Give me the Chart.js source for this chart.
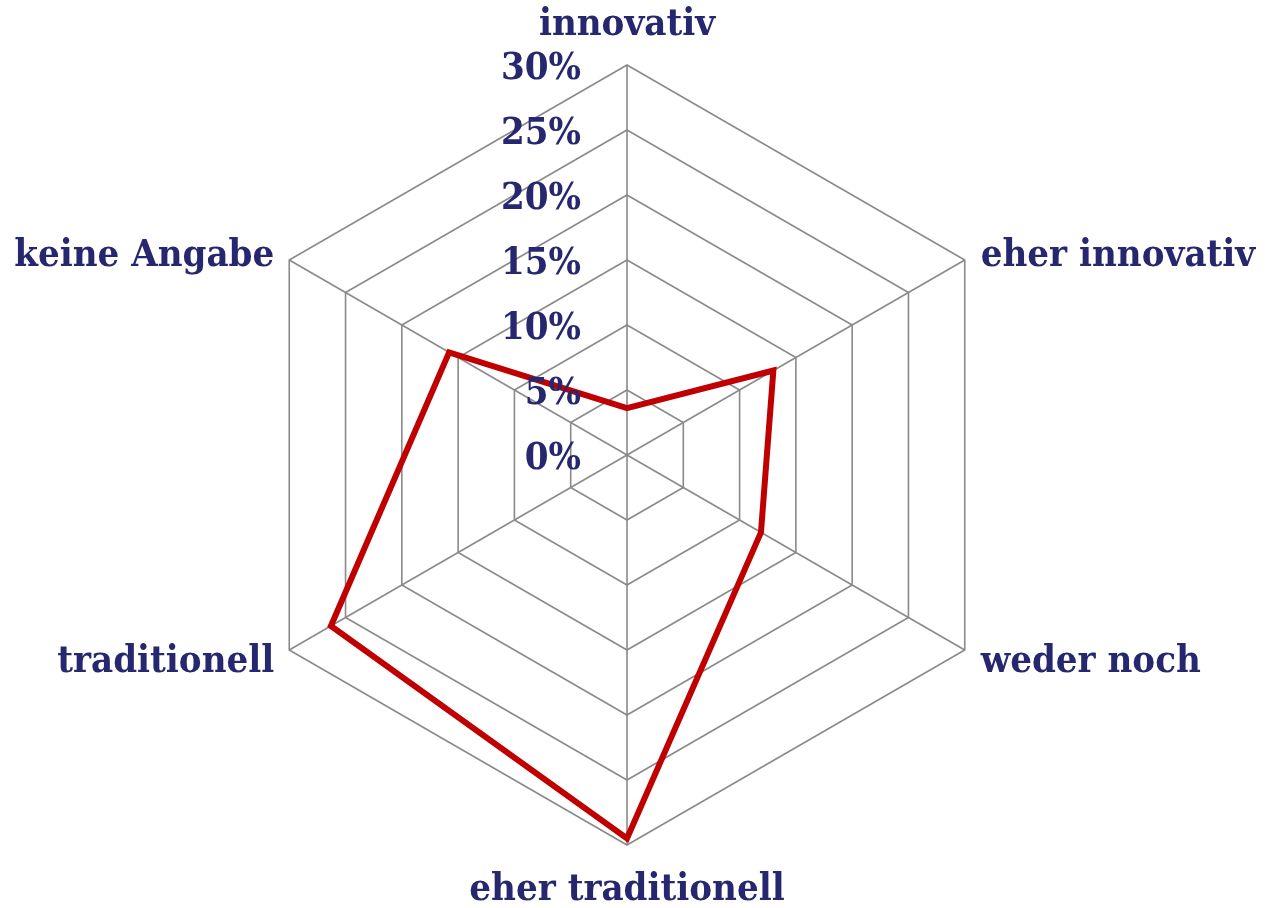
<!DOCTYPE html>
<html>
<head>
<meta charset="utf-8">
<script src="https://cdn.jsdelivr.net/npm/chart.js@4/dist/chart.umd.min.js"></script>
<style>
  html, body { margin: 0; padding: 0; background: #fff; }
  #wrap { width: 1268px; height: 908px; }
</style>
</head>
<body>
<div id="wrap"><canvas id="radarChart"></canvas></div>
<script>
// Kategorien und Werte (in %)
const categories = ['innovativ', 'eher innovativ', 'weder noch', 'eher traditionell', 'traditionell', 'keine Angabe'];
const shares = [3.6, 13.0, 11.9, 29.5, 26.3, 15.8];
const tickValues = [0, 5, 10, 15, 20, 25, 30];

const navy = '#27276f';
const labelFont = 'bold 38px "DejaVu Serif Condensed", "DejaVu Serif", serif';

// eigene Beschriftung: Achsentitel und Prozent-Ticks
const labelPlugin = {
    id: 'labels',
    afterDraw(chart) {
        const r = chart.scales.r;
        const c = chart.ctx;
        c.save();
        c.fillStyle = navy;
        c.font = labelFont;
        c.textBaseline = 'alphabetic';

        // Prozentwerte links von der senkrechten Achse
        c.textAlign = 'right';
        tickValues.forEach(v => {
            const p = r.getPointPositionForValue(0, v);
            c.fillText(v + '%', p.x - 46, p.y + 14);
        });

        // Kategorien
        categories.forEach((name, i) => {
            const p = r.getPointPosition(i, r.drawingArea);
            const cx = Math.cos(p.angle), cy = Math.sin(p.angle);
            if (Math.abs(cx) < 0.01) {
                c.textAlign = 'center';
                c.fillText(name, p.x, cy < 0 ? p.y - 30 : p.y + 55);
            } else {
                c.textAlign = cx > 0 ? 'left' : 'right';
                const x = cx > 0 ? p.x + 16 : p.x - 15;
                c.fillText(name, x, cy < 0 ? p.y + 6 : p.y + 22);
            }
        });
        c.restore();
    }
};

new Chart(document.getElementById('radarChart'), {
    type: 'radar',
    data: {
        labels: categories,
        datasets: [{
            data: shares,
            borderColor: '#c00000',
            borderWidth: 6,
            borderJoinStyle: 'miter',
            backgroundColor: 'rgba(0,0,0,0)',
            fill: false,
            pointRadius: 0,
            tension: 0
        }]
    },
    options: {
        responsive: true,
        maintainAspectRatio: false,
        animation: false,
        layout: { padding: { left: 237, right: 251, top: 65, bottom: 63 } },
        plugins: { legend: { display: false }, tooltip: { enabled: false } },
        scales: {
            r: {
                min: 0,
                max: 30,
                ticks: { stepSize: 5, display: false },
                grid: { color: '#8a8a8a', lineWidth: 1.6 },
                angleLines: { color: '#8a8a8a', lineWidth: 1.6 },
                pointLabels: { display: false }
            }
        }
    },
    plugins: [labelPlugin]
});
</script>
</body>
</html>
